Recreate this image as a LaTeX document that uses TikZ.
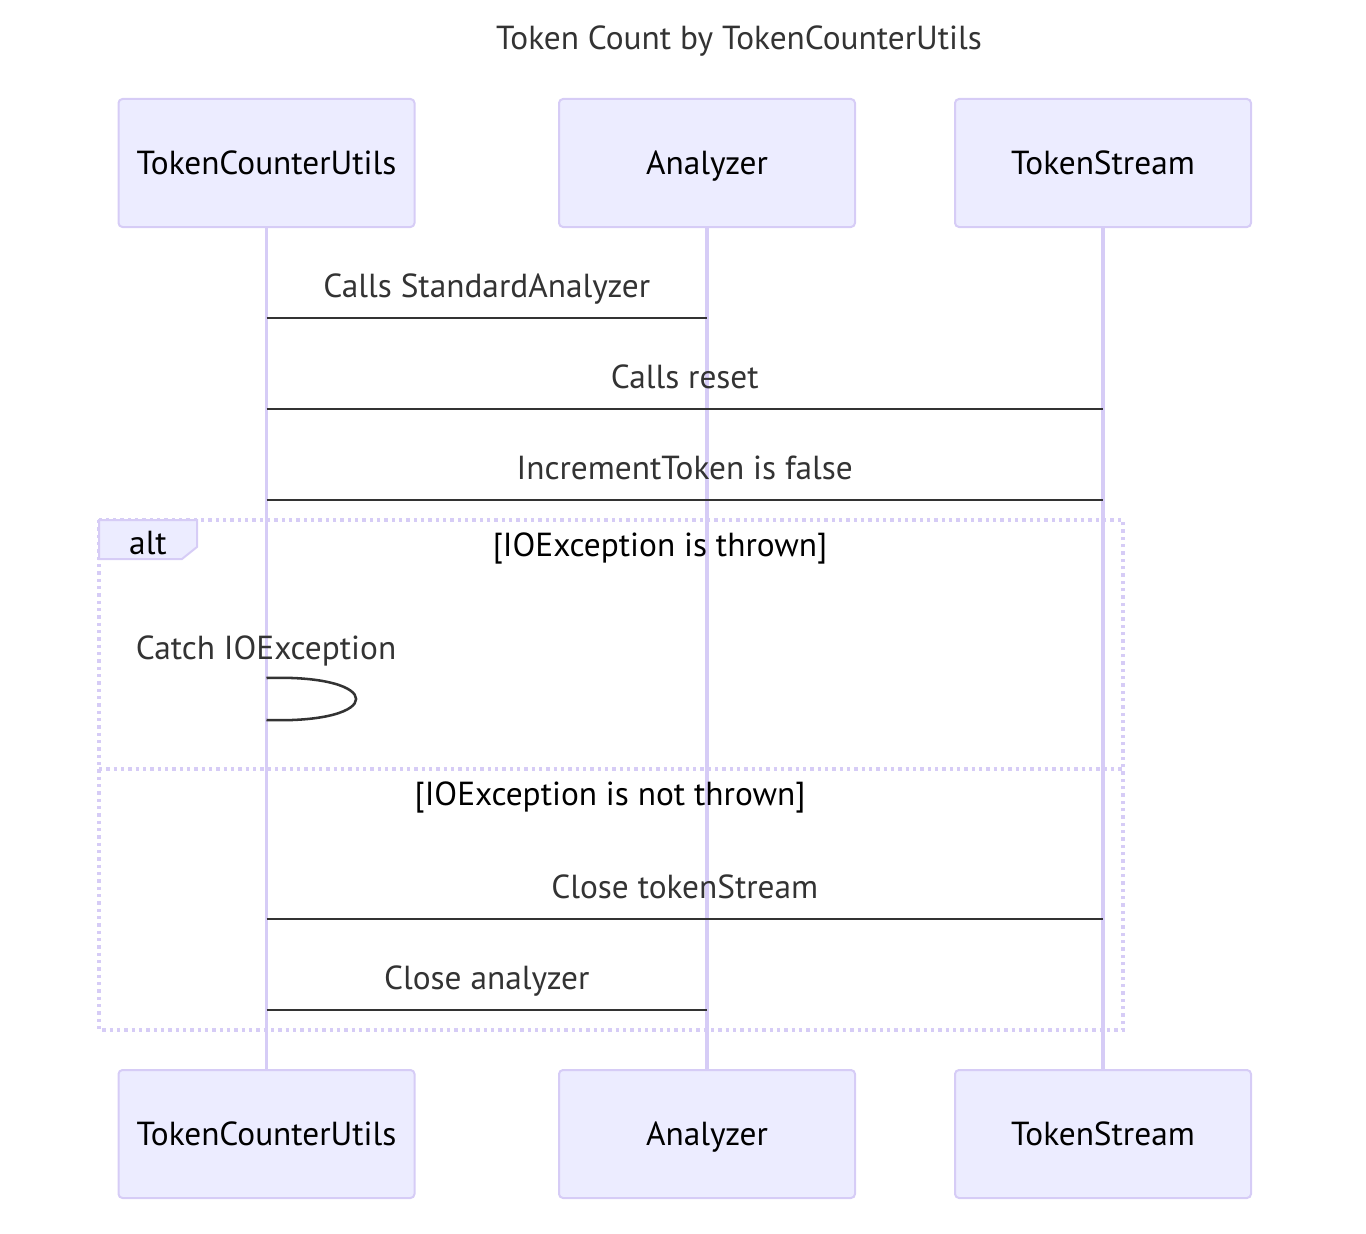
\documentclass[tikz,border=0pt]{standalone}
\usepackage{fontspec}
\setmainfont{PT Sans}
\usepackage{tikz}
\usetikzlibrary{positioning}
\usetikzlibrary{calc}

\definecolor{actorfill}{HTML}{ECECFF}
\definecolor{actorline}{HTML}{D6CCF6}
\definecolor{msgline}{HTML}{333333}

\begin{document}
\begin{tikzpicture}
	[
	x=0.75pt, y=-0.75pt,
	txt/.style = {font=\fontsize{25}{30}\selectfont, text height=20pt, text depth=2.5pt},
	actor/.style = {txt, draw=actorline, fill=actorfill, line width=1.5pt, rounded corners=3pt,
		minimum width=222pt, minimum height=96pt},
	lifeline/.style = {draw=actorline, line width=2.4pt},
	msg/.style = {draw=msgline, line width=1.9pt},
	msgtext/.style = {txt, text=msgline},
	frame/.style = {draw=actorline, line width=2.4pt, dash pattern=on 2.5pt off 3pt},
	guard/.style = {txt, text=black}
	]
	\useasboundingbox (0,0) rectangle (1366,1234);

	\node[msgtext] (title) at (739,38) {Token Count by TokenCounterUtils};

	% actors, top and bottom
	\node[actor] (tcu) at (266.5,163) {TokenCounterUtils};
	\node[actor] (ana) at (707,163) {Analyzer};
	\node[actor] (ts) at (1103,163) {TokenStream};
	\node[actor] (tcub) at (266.5,1134) {TokenCounterUtils};
	\node[actor] (anab) at (707,1134) {Analyzer};
	\node[actor] (tsb) at (1103,1134) {TokenStream};

	\draw[lifeline] (tcu) -- (tcub);
	\draw[lifeline] (ana) -- (anab);
	\draw[lifeline] (ts) -- (tsb);

	% message rows
	\coordinate (r1) at (0,318);
	\coordinate (r2) at (0,409);
	\coordinate (r3) at (0,500);
	\coordinate (r4) at (0,919);
	\coordinate (r5) at (0,1010);

	\draw[msg] (tcu |- r1) -- (ana |- r1) node[msgtext, midway, yshift=24pt] {Calls StandardAnalyzer};
	\draw[msg] (tcu |- r2) -- (ts |- r2) node[msgtext, midway, yshift=24pt] {Calls reset};
	\draw[msg] (tcu |- r3) -- (ts |- r3) node[msgtext, midway, yshift=24pt] {IncrementToken is false};

	% alt frame
	\draw[frame] (99,520) rectangle (1123,1030);
	\draw[frame] (99,769) -- (1123,769);
	\draw[draw=actorline, fill=actorfill, line width=1.5pt] (99,520) -- (197,520) -- (197,547) -- (182,559) -- (99,559) -- cycle;
	\node[guard] (alt) at (148,543) {alt};
	\node[guard] (g1) at (660,545) {[IOException is thrown]};
	\node[guard] (g2) at (610,794) {[IOException is not thrown]};

	% self call
	\coordinate (s1) at (0,678);
	\coordinate (s2) at (0,720);
	\node[msgtext] (catch) at (266,648) {Catch IOException};
	\draw[msg] (tcu |- s1) .. controls (386,674) and (386,724) .. (tcu |- s2);

	\draw[msg] (tcu |- r4) -- (ts |- r4) node[msgtext, midway, yshift=24pt] {Close tokenStream};
	\draw[msg] (tcu |- r5) -- (ana |- r5) node[msgtext, midway, yshift=24pt] {Close analyzer};
\end{tikzpicture}
\end{document}
